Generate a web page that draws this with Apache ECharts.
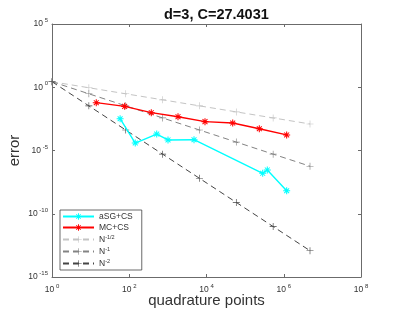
<!DOCTYPE html>
<html><head><meta charset="utf-8">
<script src="https://cdn.jsdelivr.net/npm/echarts@6/dist/echarts.min.js"></script>
<style>html,body{margin:0;padding:0;background:#fff}#c{width:399px;height:315px}</style>
</head><body><div id="c"></div>
<script>
// ---- data ----
var titleText = 'd=3, C=27.4031';
var xName = 'quadrature points';
var yName = 'error';
var seriesNames = ['aSG+CS', 'MC+CS', 'N-1/2', 'N-1', 'N-2'];
var asgX = [58, 143, 514, 1008, 4750, 285000, 375000, 1190000];
var asgY = [0.00324, 3.9e-5, 2.0e-4, 6.8e-5, 7.1e-5, 1.58e-7, 2.9e-7, 6.6e-9];
var mcX = [14, 76, 372, 1830, 9140, 47700, 233000, 1190000];
var mcY = [0.0603, 0.0309, 0.00977, 0.00468, 0.00191, 0.00148, 0.000525, 0.00017];
var refX = [1, 9, 81, 729, 6561, 59049, 531441, 4782969];
var refHalfY = [2.74, 0.913, 0.304, 0.1015, 0.0338, 0.01128, 0.00376, 0.00125];
var refOneY = [2.74, 0.304, 0.0338, 0.00376, 4.18e-4, 4.64e-5, 5.16e-6, 5.73e-7];
var refTwoY = [2.74, 0.0338, 4.18e-4, 5.16e-6, 6.37e-8, 7.86e-10, 9.70e-12, 1.20e-13];

function pairs(xs, ys) { return xs.map(function (x, i) { return [x, ys[i]]; }); }

var STAR = 'path://M-0.15,-1L0.15,-1L0.15,1L-0.15,1ZM-1,-0.15L1,-0.15L1,0.15L-1,0.15ZM-0.6,-0.8L0.8,0.6L0.6,0.8L-0.8,-0.6ZM0.6,-0.8L0.8,-0.6L-0.6,0.8L-0.8,0.6Z';
var PLUS = 'path://M-0.09,-1L0.09,-1L0.09,1L-0.09,1ZM-1,-0.09L1,-0.09L1,0.09L-1,0.09Z';

var FONT = 'Liberation Sans, Arial, sans-serif';
function expLabel(v) {
  var e = Math.round(Math.log10(v));
  return '{b|10}{e| ' + e + '}';
}
var labelRich = {
  b: { fontSize: 8.5, color: '#333', fontFamily: FONT },
  e: { fontSize: 6, color: '#333', fontFamily: FONT, verticalAlign: 'top', padding: [0, 0, 7, 0] }
};
var axisLineStyle = { color: '#6b6b6b', width: 1 };

var chart = echarts.init(document.getElementById('c'), null, { renderer: 'canvas' });
var option = {
  backgroundColor: '#fff',
  animation: false,
  title: {
    text: titleText, left: 159, top: 2,
    textStyle: { fontSize: 14.5, fontWeight: 'bold', color: '#111', fontFamily: FONT }
  },
  grid: { left: 52, right: 38, top: 24, bottom: 38, outerBoundsMode: 'none', containLabel: false, show: false },
  legend: {
    orient: 'vertical', left: 60, top: 210,
    data: seriesNames,
    backgroundColor: '#fff', borderColor: '#444', borderWidth: 0.8,
    padding: [2, 9, 2, 2], itemGap: 2, itemWidth: 31, itemHeight: 8,
    textStyle: {
      fontSize: 8.5, color: '#333', fontFamily: FONT,
      rich: {
        n: { fontSize: 8.5, color: '#333', fontFamily: FONT },
        s: { fontSize: 5.5, color: '#333', fontFamily: FONT, verticalAlign: 'top', padding: [0, 0, 5, 0] }
      }
    },
    formatter: function (name) {
      if (name.charAt(0) === 'N') return '{n|N}{s|' + name.slice(1) + '}';
      return name;
    }
  },
  xAxis: [{
    type: 'log', logBase: 100, min: 1, max: 1e8,
    name: xName, nameLocation: 'middle', nameGap: 16, nameMoveOverlap: false,
    nameTextStyle: { fontSize: 15, color: '#333', fontFamily: FONT },
    axisLine: { show: true, lineStyle: axisLineStyle },
    axisTick: { show: true, inside: true, length: 3, lineStyle: axisLineStyle },
    minorTick: { show: false }, splitLine: { show: false },
    axisLabel: { margin: 6, formatter: expLabel, rich: labelRich }
  }, {
    type: 'log', logBase: 100, min: 1, max: 1e8, position: 'top',
    axisLine: { show: true, lineStyle: axisLineStyle },
    axisTick: { show: true, inside: true, length: 3, lineStyle: axisLineStyle },
    axisLabel: { show: false }, splitLine: { show: false }
  }],
  yAxis: [{
    type: 'log', logBase: 100000, min: 1e-15, max: 1e5,
    name: yName, nameLocation: 'middle', nameGap: 30, nameRotate: 90, nameMoveOverlap: false,
    nameTextStyle: { fontSize: 15, color: '#333', fontFamily: FONT },
    axisLine: { show: true, lineStyle: axisLineStyle },
    axisTick: { show: true, inside: true, length: 3, lineStyle: axisLineStyle },
    minorTick: { show: false }, splitLine: { show: false },
    axisLabel: { margin: 4, formatter: expLabel, rich: labelRich }
  }, {
    type: 'log', logBase: 100000, min: 1e-15, max: 1e5, position: 'right',
    axisLine: { show: true, lineStyle: axisLineStyle },
    axisTick: { show: true, inside: true, length: 3, lineStyle: axisLineStyle },
    axisLabel: { show: false }, splitLine: { show: false }
  }],
  series: [
    { name: seriesNames[0], type: 'line', data: pairs(asgX, asgY), color: '#00ffff',
      symbol: STAR, symbolSize: 7, showAllSymbol: true,
      lineStyle: { width: 1.4, color: '#00ffff' }, itemStyle: { color: '#00ffff' }, z: 5 },
    { name: seriesNames[1], type: 'line', data: pairs(mcX, mcY), color: '#ff0000',
      symbol: STAR, symbolSize: 7, showAllSymbol: true,
      lineStyle: { width: 1.4, color: '#ff0000' }, itemStyle: { color: '#ff0000' }, z: 5 },
    { name: seriesNames[2], type: 'line', data: pairs(refX, refHalfY), color: '#c4c4c4',
      symbol: PLUS, symbolSize: 7, showAllSymbol: true,
      lineStyle: { width: 1, color: '#c4c4c4', type: [6, 4] }, itemStyle: { color: '#c4c4c4' }, z: 3 },
    { name: seriesNames[3], type: 'line', data: pairs(refX, refOneY), color: '#838383',
      symbol: PLUS, symbolSize: 7, showAllSymbol: true,
      lineStyle: { width: 1, color: '#838383', type: [6, 4] }, itemStyle: { color: '#838383' }, z: 3 },
    { name: seriesNames[4], type: 'line', data: pairs(refX, refTwoY), color: '#454545',
      symbol: PLUS, symbolSize: 7, showAllSymbol: true,
      lineStyle: { width: 1, color: '#454545', type: [6, 4] }, itemStyle: { color: '#454545' }, z: 3 }
  ]
};
chart.setOption(option);
</script>
</body></html>
